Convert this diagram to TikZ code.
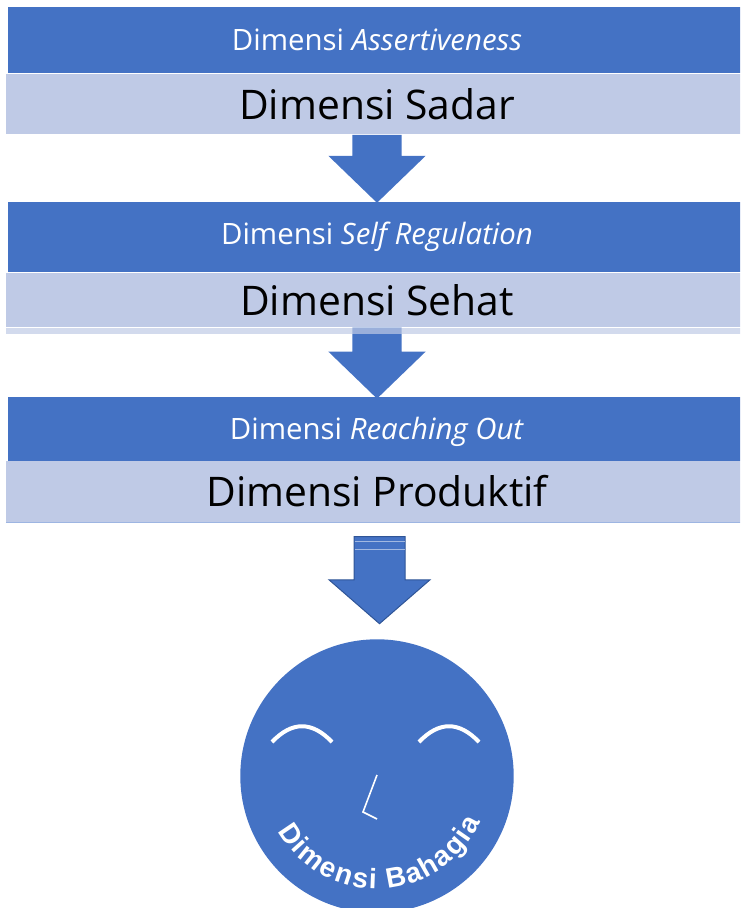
\documentclass[tikz,border=0pt]{standalone}
\usepackage{fontspec}
\setmainfont{Open Sans}
\newfontfamily\facefont{Liberation Sans}
\usetikzlibrary{shapes,
                arrows,
                decorations.text,
                positioning}
\definecolor{dimblue}{HTML}{4472C4}
\definecolor{dimband}{HTML}{BFCAE6}
\definecolor{dimedge}{HTML}{2F5597}
\definecolor{dimline}{HTML}{9DB5E2}
\tikzset{block/.style=
   {rectangle,
    fill=dimblue,
    text=white,
    inner sep=0pt,
    minimum width=738pt,
    font=\fontsize{29.4}{32}\selectfont}}
\tikzset{band/.style =
   {rectangle,
    fill=dimband,
    text=black,
    inner sep=0pt,
    minimum width=742pt,
    font=\fontsize{40.8}{46}\selectfont}}
\tikzset{downarrow/.style =
   {single arrow,
    shape border rotate=270,
    fill=dimblue,
    inner ysep=0pt,
    single arrow head indent=0pt}}
\tikzset{strip/.style = {draw=white, opacity=0.5, line width=1.4pt}}
\tikzset{brow/.style = {draw=white, line width=4pt}}

\begin{document}
\begin{tikzpicture}[x=1pt, y=-1pt]

    \clip (0,0) rectangle (740,908);

    \node [block,
           minimum height=66pt] (block0) at (377,40)
    {Dimensi \textit{Assertiveness}};

    \node [band,
           minimum height=60pt,
           below = 1pt of block0] (band0)
    {Dimensi Sadar};

    \node [block,
           minimum height=70pt,
           below = 67pt of band0] (block1)
    {Dimensi \textit{Self Regulation}};

    \node [band,
           minimum height=54pt,
           below = 1pt of block1] (band1)
    {Dimensi Sehat};

    \node [block,
           minimum height=64pt,
           text height=28pt,
           text depth=7pt,
           below = 69pt of band1] (block2)
    {Dimensi \textit{Reaching Out}};

    \node [band,
           minimum height=61pt,
           below = 0pt of block2] (band2)
    {Dimensi Produktif};

    \draw [dimline, line width=1pt] (band2.south west) -- (band2.south east);

    \node [downarrow,
           inner xsep=24.5pt,
           minimum height=68pt,
           single arrow head extend=24pt,
           single arrow tip angle=92,
           below = 0pt of band0] (arrow0) {};

    \node [downarrow,
           inner xsep=24.5pt,
           minimum height=71pt,
           single arrow head extend=24pt,
           single arrow tip angle=92,
           below = 0pt of band1] (arrow1) {};

    % lighter lower edge of the second band
    \node [rectangle,
           fill=dimband,
           opacity=0.7,
           inner sep=0pt,
           minimum width=742pt,
           minimum height=6pt,
           below = 0pt of band1] (edge1) {};

    \node [downarrow,
           draw=dimedge,
           line width=1pt,
           inner xsep=25pt,
           minimum height=87pt,
           single arrow head extend=25pt,
           single arrow tip angle=98,
           below = 14pt of band2,
           xshift=2.5pt] (arrow2) {};

    \draw [strip] ([xshift=-25pt,yshift=-5pt]arrow2.north) -- ++(50,0);
    \draw [strip] ([xshift=-25pt,yshift=-13pt]arrow2.north) -- ++(50,0);

    \node [circle,
           fill=dimblue,
           inner sep=0pt,
           minimum size=273.4pt] (face) at (377,776) {};

    \coordinate (browL) at (272,742);
    \coordinate (browR) at (419,742);
    \draw [brow] (browL) .. controls (292,721) and (312,721) .. (332,742);
    \draw [brow] (browR) .. controls (439,721) and (459,721) .. (479,742);

    \draw [white, line width=1.6pt] (377,775) -- (363,812) -- (377,819);

    \path [decorate,
           decoration={text along path,
                       text align={fit to path},
                       text={|\color{white}\facefont\bfseries\fontsize{28}{28}\selectfont|Dimensi Bahagia}}]
        ([shift={(209:113pt)}]face.center) arc [start angle=209, end angle=336, radius=113pt];

\end{tikzpicture}
\end{document}
